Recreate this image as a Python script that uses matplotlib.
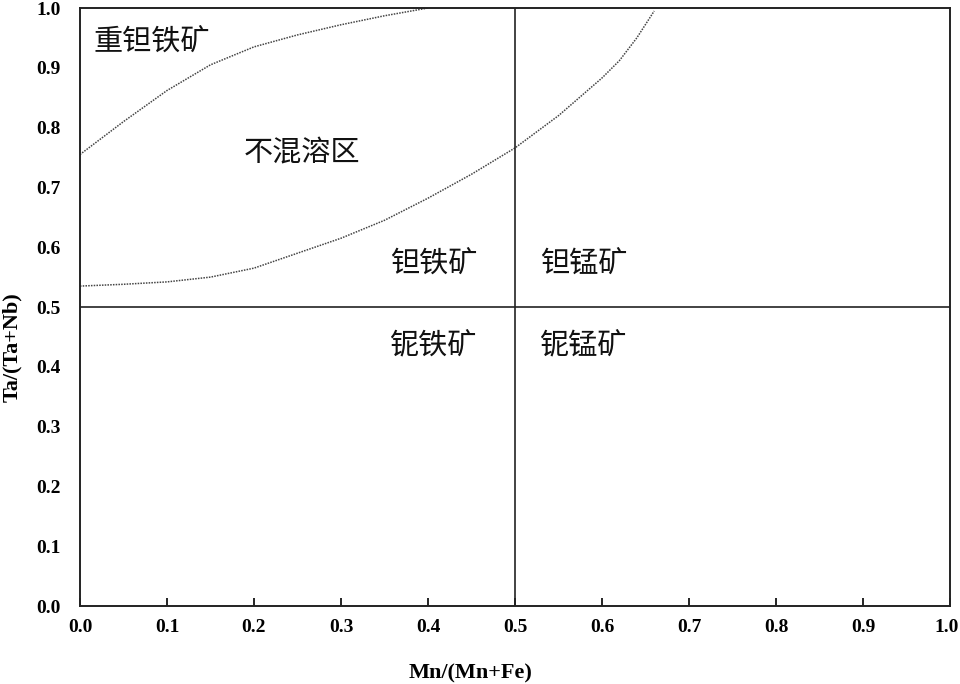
import matplotlib.pyplot as plt
import matplotlib.transforms as mtransforms

# upper miscibility boundary (Mn/(Mn+Fe), Ta/(Ta+Nb))
upper_x = [0.0, 0.05, 0.1, 0.15, 0.2, 0.25, 0.3, 0.35, 0.4]
upper_y = [0.755, 0.81, 0.862, 0.905, 0.935, 0.955, 0.972, 0.987, 1.0]

# lower miscibility boundary
lower_x = [0.0, 0.05, 0.1, 0.15, 0.2, 0.25, 0.3, 0.35, 0.4, 0.45, 0.5, 0.55, 0.6, 0.62, 0.64, 0.66]
lower_y = [0.535, 0.538, 0.542, 0.55, 0.565, 0.59, 0.615, 0.645, 0.682, 0.722, 0.766, 0.82, 0.883, 0.912, 0.95, 0.995]

ticks = [0.0, 0.1, 0.2, 0.3, 0.4, 0.5, 0.6, 0.7, 0.8, 0.9, 1.0]
tick_labels = ["0.0", "0.1", "0.2", "0.3", "0.4", "0.5", "0.6", "0.7", "0.8", "0.9", "1.0"]

region_names = ["重钽铁矿", "不混溶区", "钽铁矿", "钽锰矿", "铌铁矿", "铌锰矿"]
region_x = [0.083, 0.255, 0.407, 0.579, 0.407, 0.579]
region_y = [0.944, 0.757, 0.572, 0.572, 0.436, 0.436]

fig = plt.figure(figsize=(9.6, 6.84), dpi=100)
ax = fig.add_axes([0.0833, 0.114, 0.9063, 0.8743])

ax.plot(upper_x, upper_y, color="#444444", linestyle=(0, (1, 0.8)), linewidth=1.1)
ax.plot(lower_x, lower_y, color="#444444", linestyle=(0, (1, 0.8)), linewidth=1.1)

ax.axvline(0.5, color="#222222", linewidth=1.2)
ax.axhline(0.5, color="#222222", linewidth=1.2)

for name, x, y in zip(region_names, region_x, region_y):
    ax.text(x, y, name, ha="center", va="center", fontsize=21,
            family=["Noto Sans CJK SC", "DejaVu Sans"], color="#111111")

ax.set_xlim(0, 1)
ax.set_ylim(0, 1)

serif = {"family": "Liberation Serif", "weight": "bold", "size": 14}
label_font = {"family": "Liberation Serif", "weight": "bold", "size": 16}
ax.set_xticks(ticks)
ax.set_xticklabels(tick_labels, fontdict=serif)
ax.set_yticks(ticks)
ax.set_yticklabels(tick_labels, fontdict=serif)
ax.tick_params(axis="x", direction="in", length=6, width=1.2, pad=9)
ax.tick_params(axis="y", length=0, pad=14)

# keep the last x tick label inside the figure edge
last = ax.get_xticklabels()[-1]
last.set_transform(last.get_transform() + mtransforms.ScaledTranslation(-3 / 100, 0, fig.dpi_scale_trans))

ax.set_xlabel("Mn/(Mn+Fe)", fontdict=label_font)
ax.set_ylabel("Ta/(Ta+Nb)", fontdict=label_font)
ax.xaxis.set_label_coords(0.449, -0.096)
ax.yaxis.set_label_coords(-0.067, 0.433)

for spine in ax.spines.values():
    spine.set_linewidth(1.4)
    spine.set_color("#222222")

fig.savefig("out.png", dpi=100)
